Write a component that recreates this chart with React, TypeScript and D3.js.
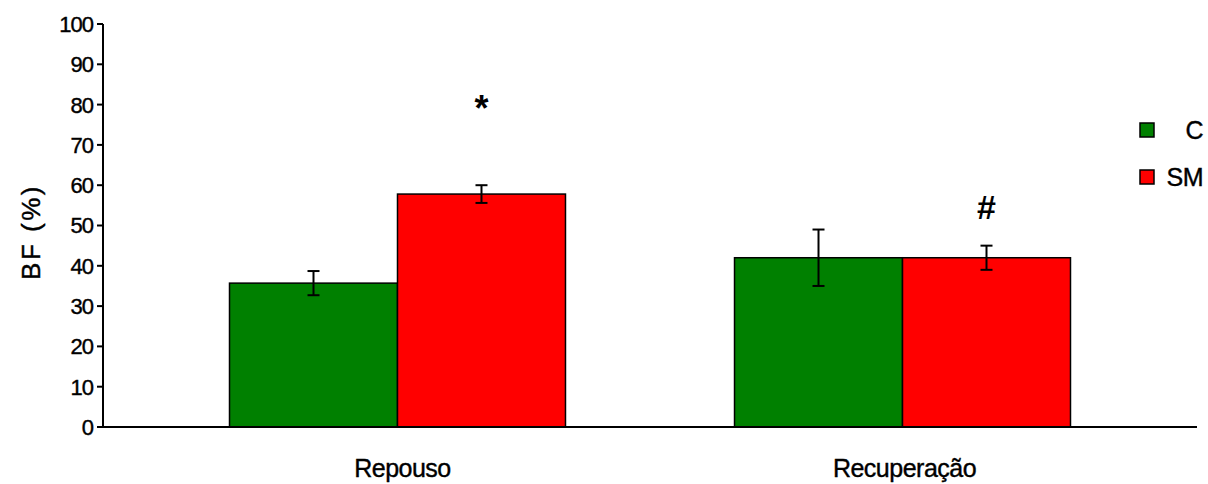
import React from "react";
import * as d3 from "d3";

const categories = ["Repouso", "Recuperação"];
const seriesNames = ["C", "SM"];
const seriesColors = ["#008000", "#ff0000"];
const meansC = [35.7, 42.0];
const meansSM = [57.8, 42.0];
const errC = [3.0, 7.0];
const errSM = [2.2, 3.0];
const yTicks = [0, 10, 20, 30, 40, 50, 60, 70, 80, 90, 100];
const annotations = [
  { cat: "Repouso", series: "SM", text: "*", y: 76 },
  { cat: "Recuperação", series: "SM", text: "#", y: 51.5 },
];

const W = 1208;
const H = 484;
const font = "'Liberation Sans', Arial, Helvetica, sans-serif";

export default function App() {
  const x0 = d3.scaleBand<string>().domain(categories).range([103, 1197]).paddingInner(0.3347).paddingOuter(0.2505);
  const x1 = d3.scaleBand<string>().domain(seriesNames).range([0, x0.bandwidth()]);
  const y = d3.scaleLinear().domain([0, 100]).range([427, 24]);
  const means = [meansC, meansSM];
  const errs = [errC, errSM];

  const bars: any[] = [];
  categories.forEach((c, ci) => {
    seriesNames.forEach((s, si) => {
      bars.push({ c, s, v: means[si][ci], e: errs[si][ci], color: seriesColors[si] });
    });
  });

  const textStroke = { stroke: "#000", strokeWidth: 0.4 };

  return (
    <svg width={W} height={H} style={{ position: "absolute", left: 0, top: 0, background: "#fff" }}>
      <rect x={0} y={0} width={W} height={H} fill="#fff" />
      {bars.map((b, i) => {
        const bx = (x0(b.c) as number) + (x1(b.s) as number);
        return (
          <rect key={"b" + i} x={bx} y={y(b.v)} width={x1.bandwidth()} height={y(0) - y(b.v)}
            fill={b.color} stroke="#000" strokeWidth={1.5} />
        );
      })}
      {bars.map((b, i) => {
        const cx = (x0(b.c) as number) + (x1(b.s) as number) + x1.bandwidth() / 2;
        return (
          <g key={"e" + i} stroke="#000" strokeWidth={2}>
            <line x1={cx} x2={cx} y1={y(b.v + b.e)} y2={y(b.v - b.e)} />
            <line x1={cx - 6} x2={cx + 6} y1={y(b.v + b.e)} y2={y(b.v + b.e)} />
            <line x1={cx - 6} x2={cx + 6} y1={y(b.v - b.e)} y2={y(b.v - b.e)} />
          </g>
        );
      })}
      {/* axes */}
      <line x1={103} x2={103} y1={y(100)} y2={y(0)} stroke="#000" strokeWidth={2} />
      <line x1={103} x2={1197} y1={y(0)} y2={y(0)} stroke="#000" strokeWidth={2} />
      {yTicks.map((t) => (
        <g key={"t" + t}>
          <line x1={97} x2={103} y1={y(t)} y2={y(t)} stroke="#000" strokeWidth={2} />
          <text x={93} y={y(t)} dy="0.36em" textAnchor="end" fontFamily={font} fontSize={22}
            letterSpacing={-1} fill="#000" {...textStroke}>{t}</text>
        </g>
      ))}
      {categories.map((c, i) => (
        <text key={"c" + c} x={(x0(c) as number) + x0.bandwidth() / 2 + (i === 0 ? 5 : 2)} y={477} textAnchor="middle"
          fontFamily={font} fontSize={25} letterSpacing={-0.5} fill="#000" {...textStroke}>{c}</text>
      ))}
      <text transform={`translate(40,${232}) rotate(-90)`} textAnchor="middle" fontFamily={font}
        fontSize={26} letterSpacing={2.5} fill="#000" {...textStroke}>BF (%)</text>
      {annotations.map((a, i) => {
        const cx = (x0(a.cat) as number) + (x1(a.series) as number) + x1.bandwidth() / 2;
        return (
          <text key={"a" + i} x={cx} y={y(a.y)} textAnchor="middle" fontFamily={font}
            fontSize={a.text === "*" ? 36 : 34} fontWeight="bold" fill="#000">{a.text}</text>
        );
      })}
      {/* legend */}
      {seriesNames.map((s, i) => (
        <g key={"l" + s}>
          <rect x={1140} y={123 + i * 47} width={14} height={14} fill={seriesColors[i]} stroke="#000" strokeWidth={1.5} />
          <text x={1203} y={130 + i * 47} dy="0.36em" textAnchor="end" fontFamily={font} fontSize={25}
            letterSpacing={-0.5} fill="#000" {...textStroke}>{s}</text>
        </g>
      ))}
    </svg>
  );
}
